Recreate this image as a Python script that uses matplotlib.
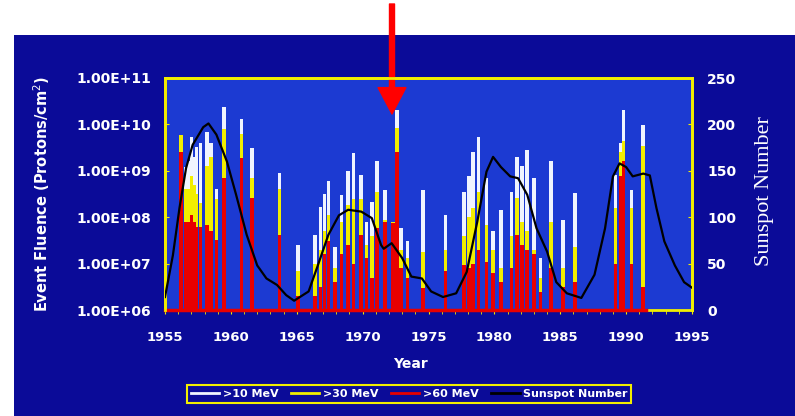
import numpy as np
import matplotlib
matplotlib.use('Agg')
import matplotlib.pyplot as plt
from matplotlib.ticker import FixedLocator, MultipleLocator

# Solar proton events: year and fluence for each energy band (protons/cm^2)
event_year = [1956.2, 1956.6, 1956.8, 1957.0, 1957.2, 1957.4, 1957.7, 1958.2, 1958.5, 1958.9,
              1959.5, 1960.8, 1961.6, 1963.7, 1965.1, 1966.4, 1966.8, 1967.1, 1967.4, 1967.9,
              1968.4, 1968.9, 1969.3, 1969.9, 1970.3, 1970.7, 1971.1, 1971.7, 1972.3, 1972.6,
              1972.9, 1973.4, 1974.6, 1976.3, 1977.7, 1978.1, 1978.4, 1978.8, 1979.4, 1979.9,
              1980.5, 1981.3, 1981.7, 1982.1, 1982.5, 1983.0, 1983.5, 1984.3, 1985.2, 1986.1,
              1989.2, 1989.6, 1989.8, 1990.4, 1991.3]
fluence_10 = [5.9e9, 1.2e9, 1.6e9, 5.4e9, 2.0e9, 3.3e9, 4.0e9, 6.9e9, 4.0e9, 4.0e8,
              2.4e10, 1.3e10, 3.1e9, 8.9e8, 2.5e7, 4.2e7, 1.7e8, 3.2e8, 5.9e8, 2.3e7,
              3.0e8, 1.0e9, 2.4e9, 8.1e8, 7.9e7, 2.1e8, 1.6e9, 3.9e8, 7.9e7, 2.0e10,
              5.9e7, 3.0e7, 3.9e8, 1.1e8, 3.5e8, 7.9e8, 2.6e9, 5.4e9, 6.9e8, 5.0e7,
              1.4e8, 3.5e8, 2.0e9, 1.3e9, 2.8e9, 6.9e8, 1.3e7, 1.6e9, 8.7e7, 3.3e8,
              8.1e8, 4.0e9, 2.0e10, 3.9e8, 9.8e9]
fluence_30 = [5.9e9, 4.0e8, 4.0e8, 7.9e8, 5.0e8, 3.2e8, 2.0e8, 1.3e9, 2.0e9, 2.5e8,
              7.9e9, 6.3e9, 6.9e8, 4.0e8, 6.8e6, 1.0e7, 2.0e7, 5.0e7, 1.1e8, 7.9e6,
              7.9e7, 1.8e8, 2.5e8, 2.5e8, 2.5e7, 4.0e7, 3.5e8, 8.9e7, 7.9e7, 8.3e9,
              2.0e7, 1.3e7, 1.8e7, 2.0e7, 4.0e7, 1.0e8, 1.6e8, 3.5e8, 6.8e7, 2.0e7,
              7.9e6, 4.0e7, 2.6e8, 7.9e7, 5.0e7, 2.0e7, 5.0e6, 7.9e7, 7.9e6, 2.3e7,
              1.6e8, 2.5e9, 4.3e9, 1.6e8, 3.5e9]
fluence_60 = [2.6e9, 7.9e7, 7.9e7, 1.1e8, 7.9e7, 6.3e7, 6.3e7, 6.8e7, 5.0e7, 3.2e7,
              6.9e8, 1.9e9, 2.6e8, 4.2e7, 2.0e6, 2.0e6, 3.2e6, 1.6e7, 3.0e7, 4.0e6,
              1.6e7, 2.5e7, 1.0e7, 4.2e7, 1.3e7, 5.0e6, 5.9e7, 7.9e7, 7.4e7, 2.6e9,
              7.9e6, 5.0e6, 3.0e6, 6.8e6, 9.3e6, 7.9e6, 1.0e7, 2.0e7, 1.1e7, 6.3e6,
              4.0e6, 7.9e6, 4.2e7, 2.5e7, 2.0e7, 1.6e7, 2.5e6, 7.9e6, 3.2e6, 4.1e6,
              1.0e7, 7.9e8, 1.6e9, 1.0e7, 3.2e6]

# Smoothed sunspot number
ssn_year = [1955.0, 1955.6, 1956.1, 1956.6, 1957.1, 1957.9, 1958.3, 1958.9, 1959.7, 1960.4,
            1961.2, 1962.0, 1962.7, 1963.5, 1964.2, 1964.8, 1965.9, 1966.6, 1967.4, 1968.2,
            1968.9, 1969.9, 1970.7, 1971.4, 1971.6, 1972.2, 1973.0, 1973.7, 1974.5, 1975.2,
            1976.1, 1977.1, 1977.9, 1978.7, 1979.4, 1979.9, 1980.5, 1981.2, 1981.8, 1982.5,
            1983.2, 1984.0, 1984.7, 1985.5, 1986.6, 1987.6, 1988.4, 1989.0, 1989.5, 1990.0,
            1990.5, 1991.3, 1991.8, 1992.3, 1992.9, 1993.7, 1994.4, 1995.0]
ssn = [14, 59, 110, 153, 178, 197, 201, 189, 160, 124,
       81, 48, 34, 27, 16, 10, 20, 48, 81, 102,
       108, 106, 99, 70, 66, 72, 56, 36, 34, 20,
       14, 18, 41, 95, 149, 165, 154, 144, 142, 124,
       88, 63, 30, 18, 13, 38, 88, 144, 158, 154,
       144, 147, 145, 110, 74, 48, 30, 24]

fluence_ticks = [1e6, 1e7, 1e8, 1e9, 1e10, 1e11]
fluence_labels = ['1.00E+06', '1.00E+07', '1.00E+08', '1.00E+09', '1.00E+10', '1.00E+11']

navy = '#0b0b98'
plot_bg = '#1c3ad2'
yellow = '#f2ee00'
white = '#f0f4ff'
red = '#e80000'

fig = plt.figure(figsize=(7.95, 4.16), dpi=100)
fig.patch.set_facecolor('white')
fig.add_artist(plt.Rectangle((14 / 795, 0), 1, (416 - 35) / 416, transform=fig.transFigure,
                             facecolor=navy, edgecolor='none', zorder=-10))

ax = fig.add_axes([165 / 795, 106 / 416, 527 / 795, 232 / 416])
ax.set_facecolor(plot_bg)
ax.set_yscale('log')
ax.set_xlim(1955, 1995)
ax.set_ylim(1e6, 1e11)

w = 0.28
ax.bar(event_year, np.array(fluence_10) - 1e6, bottom=1e6, width=w, color=white, zorder=2)
ax.bar(event_year, np.array(fluence_30) - 1e6, bottom=1e6, width=w, color=yellow, zorder=3)
ax.bar(event_year, np.array(fluence_60) - 1e6, bottom=1e6, width=w, color=red, zorder=4)
# red baseline under the event bars
ax.plot([1955, 1991.5], [1e6, 1e6], color=red, lw=2.5, clip_on=False, zorder=6)

ax.yaxis.set_major_locator(FixedLocator(fluence_ticks))
ax.set_yticklabels(fluence_labels)
ax.yaxis.set_minor_locator(FixedLocator([]))
ax.xaxis.set_major_locator(MultipleLocator(5))
ax.xaxis.set_minor_locator(MultipleLocator(1))
ax.tick_params(axis='y', colors=yellow, labelcolor='white', direction='in', length=3, pad=10,
               labelsize=10)
ax.tick_params(axis='x', which='both', colors=yellow, labelcolor='white', direction='out',
               length=3, pad=12, labelsize=9.5)
for lab in ax.get_xticklabels() + ax.get_yticklabels():
    lab.set_fontweight('bold')

ax.set_xlabel('Year', color='white', fontsize=10, fontweight='bold')
ax.xaxis.set_label_coords((410 - 165) / 527, -(357 - 310) / 232)
ax.set_ylabel('Event Fluence (Protons/cm$^2$)', color='white', fontsize=10.5, fontweight='bold')
ax.yaxis.set_label_coords(-(165 - 52) / 527, 0.5)

# sunspot number on the right axis
ax2 = ax.twinx()
ax2.plot(ssn_year, ssn, color='black', lw=1.6, zorder=5)
ax2.set_ylim(0, 250)
ax2.yaxis.set_major_locator(MultipleLocator(50))
ax2.tick_params(axis='y', colors=yellow, labelcolor='white', direction='in', length=3, pad=11,
                labelsize=10)
for lab in ax2.get_yticklabels():
    lab.set_fontweight('bold')
ax2.set_ylabel('Sunspot Number', color='white', fontsize=16, family='Liberation Serif')
ax2.yaxis.set_label_coords((755 - 165) / 527, 0.513)

for a in (ax, ax2):
    for side in ('left', 'right', 'top', 'bottom'):
        a.spines[side].set_color(yellow)
        a.spines[side].set_linewidth(2)
ax2.spines['bottom'].set_visible(False)

# legend
handles = [plt.Line2D([], [], color=white, lw=2),
           plt.Line2D([], [], color=yellow, lw=2),
           plt.Line2D([], [], color=red, lw=2),
           plt.Line2D([], [], color='black', lw=2)]
leg = fig.legend(handles, ['>10 MeV', '>30 MeV', '>60 MeV', 'Sunspot Number'],
                 loc='center', bbox_to_anchor=((185 + 633) / 2 / 795, 1 - 394 / 416),
                 ncol=4, frameon=True, fancybox=False, facecolor=navy, edgecolor=yellow,
                 prop={'size': 8, 'weight': 'bold'}, handlelength=2.6, handletextpad=0.3,
                 columnspacing=1.1, borderpad=0.35, framealpha=1)
leg.get_frame().set_linewidth(1.5)
for t in leg.get_texts():
    t.set_color('white')

# red arrow pointing at the August 1972 event
ax.annotate('', xy=(392, 416 - 114), xycoords='figure pixels',
            xytext=(392, 416 - 4), textcoords='figure pixels',
            arrowprops=dict(facecolor='#ff0000', edgecolor='#ff0000', width=3.6,
                            headwidth=20, headlength=19, shrink=0),
            annotation_clip=False, zorder=10)

fig.savefig('out.png', dpi=100)
